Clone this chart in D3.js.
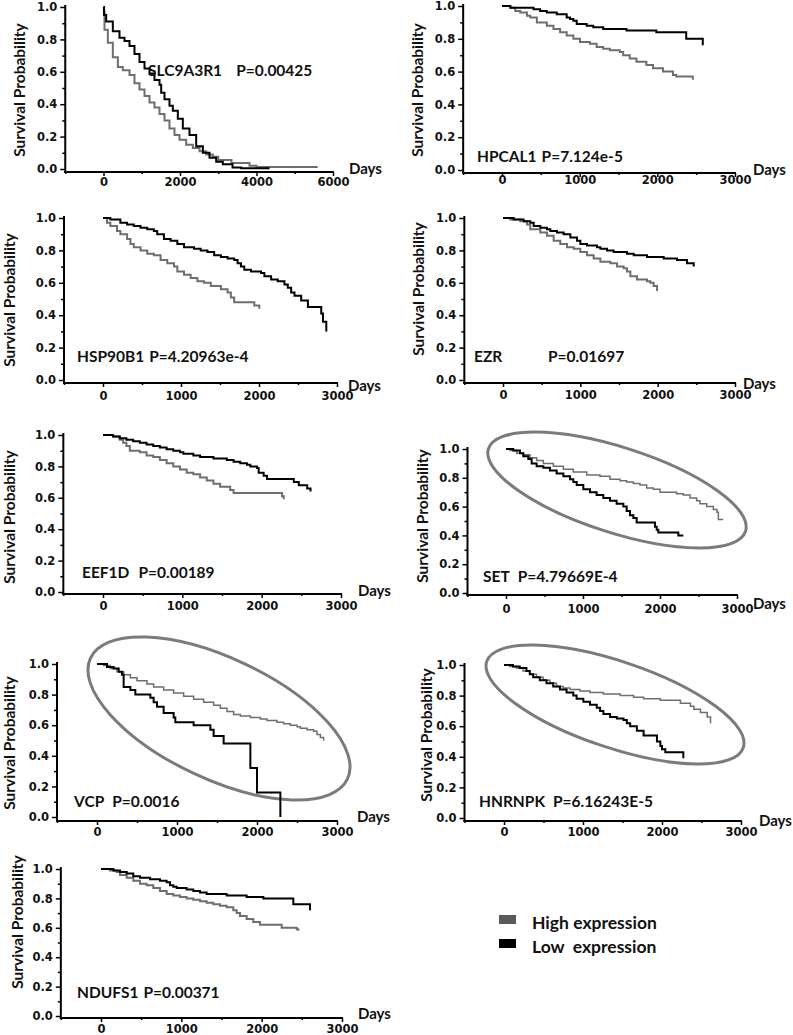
<!DOCTYPE html>
<html><head><meta charset="utf-8">
<script src="https://cdn.jsdelivr.net/npm/d3@7"></script>
<style>
body{margin:0;background:#fff}
svg{display:block}
text{font-family:Lato,"Open Sans",sans-serif;}
</style></head>
<body><svg id="c" width="793" height="1035"></svg>
<script>
// ---------------- DATA ----------------
const geneNames = ["SLC9A3R1","HPCAL1","HSP90B1","EZR","EEF1D","SET","VCP","HNRNPK","NDUFS1"];
const pValues = ["P=0.00425","P=7.124e-5","P=4.20963e-4","P=0.01697","P=0.00189","P=4.79669E-4","P=0.0016","P=6.16243E-5","P=0.00371"];
const yTicks = [0,0.2,0.4,0.6,0.8,1.0];
const yMinorTicks = [0.1,0.3,0.5,0.7,0.9];
const xTicks6000 = [0,2000,4000,6000];
const xMinor6000 = [-1000,1000,3000,5000];
const xTicks3000 = [0,1000,2000,3000];
const xMinor3000 = [-500,500,1500,2500];
const legendLabels = ["High expression","Low  expression"];

// survival curves: [days, survival probability]
const slcHigh = [[0,1],[10,0.97],[26,0.86],[113,0.78],[244,0.69],[375,0.63],[505,0.61],[680,0.58],[810,0.53],[941,0.49],[1072,0.45],[1203,0.41],[1333,0.38],[1464,0.34],[1595,0.30],[1725,0.25],[1856,0.21],[1987,0.18],[2161,0.15],[2336,0.13],[2510,0.11],[2684,0.09],[2858,0.075],[3000,0.055],[3346,0.037],[3817,0.02],[4000,0.012],[5600,0.012]];
const slcLow = [[0,1],[15,0.95],[70,0.91],[244,0.85],[418,0.81],[549,0.79],[680,0.76],[810,0.71],[941,0.66],[1072,0.62],[1203,0.59],[1333,0.55],[1464,0.52],[1508,0.47],[1595,0.43],[1725,0.39],[1813,0.36],[1943,0.31],[2074,0.25],[2248,0.21],[2423,0.14],[2597,0.10],[2771,0.07],[2946,0.045],[3120,0.03],[3373,0.01],[3600,0.005],[4340,0.005]];
const hpcalHigh = [[0,1],[107,0.99],[171,0.97],[235,0.96],[321,0.94],[363,0.93],[449,0.90],[577,0.88],[662,0.86],[748,0.84],[833,0.82],[919,0.80],[1004,0.78],[1132,0.77],[1218,0.75],[1303,0.74],[1389,0.73],[1517,0.72],[1560,0.70],[1645,0.68],[1731,0.66],[1859,0.64],[1944,0.62],[2073,0.60],[2201,0.58],[2244,0.57],[2457,0.55]];
const hpcalLow = [[0,1],[107,0.99],[406,0.98],[491,0.97],[577,0.96],[705,0.95],[833,0.93],[876,0.92],[919,0.91],[962,0.89],[1090,0.88],[1175,0.87],[1303,0.86],[1603,0.85],[1987,0.84],[2372,0.80],[2585,0.76]];
const hspHigh = [[0,1],[52,0.97],[94,0.95],[180,0.92],[223,0.90],[309,0.87],[352,0.84],[395,0.82],[481,0.80],[567,0.78],[652,0.77],[738,0.74],[824,0.72],[910,0.70],[953,0.67],[1039,0.65],[1124,0.63],[1210,0.61],[1296,0.60],[1382,0.58],[1511,0.56],[1597,0.54],[1639,0.51],[1682,0.48],[1940,0.46],[2004,0.44]];
const hspLow = [[0,1],[94,0.99],[223,0.97],[309,0.96],[395,0.95],[481,0.94],[567,0.93],[652,0.92],[695,0.90],[781,0.87],[867,0.86],[953,0.84],[1039,0.82],[1167,0.81],[1253,0.80],[1339,0.79],[1425,0.77],[1511,0.76],[1597,0.75],[1682,0.74],[1725,0.72],[1768,0.70],[1811,0.68],[1897,0.67],[2026,0.66],[2069,0.64],[2155,0.62],[2240,0.61],[2326,0.59],[2369,0.57],[2412,0.54],[2455,0.52],[2541,0.49],[2627,0.45],[2798,0.41],[2820,0.36],[2863,0.30]];
const ezrHigh = [[0,1],[95,0.99],[224,0.98],[310,0.96],[353,0.93],[483,0.91],[569,0.89],[655,0.86],[741,0.84],[828,0.82],[914,0.81],[1000,0.79],[1086,0.77],[1172,0.75],[1259,0.73],[1388,0.72],[1474,0.70],[1560,0.69],[1603,0.67],[1647,0.64],[1733,0.62],[1862,0.61],[1905,0.60],[1948,0.58],[1991,0.55]];
const ezrLow = [[0,1],[138,0.99],[267,0.98],[353,0.97],[397,0.95],[483,0.94],[569,0.93],[612,0.92],[698,0.91],[784,0.90],[871,0.88],[957,0.86],[1000,0.84],[1086,0.83],[1216,0.82],[1259,0.81],[1345,0.80],[1431,0.79],[1603,0.78],[1690,0.77],[1862,0.76],[2078,0.75],[2250,0.74],[2379,0.72],[2466,0.70]];
const eefHigh = [[0,1],[127,0.99],[211,0.97],[253,0.95],[295,0.93],[338,0.90],[464,0.89],[549,0.87],[633,0.86],[717,0.84],[802,0.82],[886,0.80],[970,0.78],[1055,0.76],[1139,0.75],[1224,0.73],[1308,0.71],[1392,0.69],[1477,0.67],[1603,0.65],[1646,0.63],[2257,0.61],[2278,0.59]];
const eefLow = [[0,1],[127,0.99],[211,0.98],[295,0.97],[380,0.96],[464,0.95],[549,0.94],[633,0.93],[717,0.92],[802,0.91],[886,0.90],[970,0.89],[1013,0.88],[1139,0.87],[1224,0.86],[1392,0.85],[1561,0.84],[1646,0.83],[1730,0.82],[1814,0.81],[1857,0.80],[1941,0.79],[1962,0.76],[2025,0.74],[2068,0.72],[2405,0.70],[2468,0.68],[2574,0.66],[2616,0.64]];
const setHigh = [[0,1],[52,0.99],[139,0.97],[225,0.96],[312,0.94],[398,0.92],[485,0.90],[615,0.88],[745,0.86],[874,0.84],[1048,0.82],[1221,0.81],[1351,0.79],[1481,0.78],[1567,0.77],[1654,0.76],[1740,0.75],[1827,0.73],[1913,0.72],[2000,0.70],[2216,0.69],[2303,0.68],[2390,0.66],[2476,0.64],[2519,0.62],[2606,0.60],[2693,0.58],[2740,0.56],[2758,0.51],[2820,0.51]];
const setLow = [[0,1],[95,0.99],[182,0.97],[225,0.95],[290,0.93],[333,0.90],[398,0.88],[485,0.87],[571,0.85],[658,0.83],[745,0.81],[831,0.79],[874,0.77],[918,0.75],[1004,0.72],[1091,0.70],[1177,0.68],[1264,0.66],[1351,0.64],[1437,0.62],[1524,0.60],[1567,0.57],[1610,0.54],[1654,0.52],[1697,0.49],[1935,0.46],[1957,0.44],[1978,0.42],[2238,0.40],[2303,0.40]];
const vcpHigh = [[0,1],[83,0.99],[167,0.97],[250,0.95],[333,0.93],[417,0.91],[500,0.89],[625,0.87],[708,0.85],[833,0.83],[958,0.81],[1083,0.79],[1208,0.77],[1333,0.75],[1458,0.73],[1542,0.71],[1625,0.69],[1708,0.67],[1792,0.66],[1917,0.65],[2042,0.64],[2125,0.63],[2250,0.62],[2333,0.61],[2417,0.60],[2500,0.59],[2542,0.58],[2625,0.57],[2708,0.56],[2750,0.54],[2792,0.52],[2833,0.50]];
const vcpLow = [[0,1],[125,0.98],[208,0.97],[271,0.95],[313,0.93],[333,0.85],[417,0.83],[479,0.80],[667,0.78],[708,0.75],[750,0.72],[833,0.68],[958,0.65],[979,0.62],[1208,0.60],[1417,0.57],[1458,0.53],[1583,0.48],[1917,0.32],[2000,0.16],[2292,0.0]];
const hnrHigh = [[0,1],[72,0.99],[157,0.98],[242,0.96],[326,0.94],[411,0.92],[496,0.90],[581,0.88],[665,0.86],[750,0.85],[835,0.84],[962,0.83],[1089,0.82],[1258,0.81],[1470,0.80],[1640,0.79],[1767,0.78],[1979,0.77],[2233,0.75],[2360,0.73],[2403,0.71],[2487,0.69],[2572,0.66],[2614,0.62]];
const hnrLow = [[0,1],[114,0.99],[199,0.98],[284,0.96],[326,0.94],[369,0.92],[453,0.90],[538,0.88],[623,0.86],[708,0.84],[792,0.82],[877,0.80],[919,0.78],[1004,0.76],[1089,0.74],[1174,0.72],[1216,0.70],[1258,0.68],[1343,0.66],[1428,0.65],[1513,0.64],[1555,0.62],[1597,0.60],[1682,0.57],[1767,0.54],[1936,0.50],[1979,0.47],[2000,0.45],[2042,0.43],[2270,0.39]];
const ndufHigh = [[0,1],[112,0.99],[195,0.98],[237,0.96],[320,0.94],[402,0.92],[485,0.90],[568,0.89],[651,0.87],[734,0.85],[817,0.83],[900,0.82],[983,0.81],[1066,0.80],[1149,0.79],[1232,0.78],[1315,0.77],[1398,0.76],[1481,0.75],[1564,0.74],[1647,0.72],[1689,0.70],[1730,0.68],[1813,0.66],[1896,0.64],[1979,0.62],[2249,0.60],[2436,0.59],[2456,0.58]];
const ndufLow = [[0,1],[154,0.99],[237,0.98],[320,0.97],[402,0.95],[485,0.94],[610,0.93],[734,0.92],[817,0.91],[859,0.89],[900,0.88],[942,0.87],[1066,0.86],[1149,0.85],[1232,0.84],[1315,0.83],[1564,0.82],[1813,0.81],[2021,0.80],[2394,0.76],[2602,0.72]];

const highSeries = [slcHigh,hpcalHigh,hspHigh,ezrHigh,eefHigh,setHigh,vcpHigh,hnrHigh,ndufHigh];
const lowSeries  = [slcLow,hpcalLow,hspLow,ezrLow,eefLow,setLow,vcpLow,hnrLow,ndufLow];

// ---------------- LAYOUT ----------------
const layouts = [
 {x0:103.5,xEnd:333,xMin:-1000,xMax:6000,maj:xTicks6000,min:xMinor6000,y0:169,y1:7,axY:172,lblOff:6,days:[349,174],yl:[19,90],ann:[148,76],gap:14},
 {x0:502,xEnd:735,xMin:-500,xMax:3000,maj:xTicks3000,min:xMinor3000,y0:170,y1:6,axY:173,lblOff:3,days:[753,175],yl:[417,90],ann:[477,162],gap:5},
 {x0:103,xEnd:337,xMin:-500,xMax:3000,maj:xTicks3000,min:xMinor3000,y0:380,y1:218,axY:383,lblOff:9,days:[348,391],yl:[9,300],ann:[77,362],gap:5},
 {x0:503,xEnd:735,xMin:-500,xMax:3000,maj:xTicks3000,min:xMinor3000,y0:380,y1:218,axY:383,lblOff:8,days:[743,389],yl:[418,289],ann:[474,362],pX:548},
 {x0:103,xEnd:341,xMin:-500,xMax:3000,maj:xTicks3000,min:xMinor3000,y0:592,y1:435,axY:594,lblOff:8,days:[358,596],yl:[9,517],ann:[82,578],gap:9},
 {x0:506,xEnd:737,xMin:-500,xMax:3000,maj:xTicks3000,min:xMinor3000,y0:593,y1:449,axY:595,lblOff:10,days:[753,609],yl:[422,516],ann:[483,582],gap:8,thin:true,ell:[617,490,135,42.7,17.8]},
 {x0:97,xEnd:337,xMin:-500,xMax:3000,maj:xTicks3000,min:xMinor3000,y0:817,y1:664,axY:821,lblOff:7,days:[357,822],yl:[9,743],ann:[74,807],gap:8,thin:true,ell:[219,718.5,142,60.4,25.2]},
 {x0:504,xEnd:741,xMin:-500,xMax:3000,maj:xTicks3000,min:xMinor3000,y0:818,y1:665,axY:821,lblOff:7,days:[759,826],yl:[426,735],ann:[479,807],gap:8,thin:true,ell:[615,704.5,135.3,43.2,18.6]},
 {x0:101,xEnd:342,xMin:-500,xMax:3000,maj:xTicks3000,min:xMinor3000,y0:1016,y1:869,axY:1018,lblOff:7,days:[358,1019],yl:[17,922],ann:[77,998],gap:5}
];

const HIGH = '#6e6e6e', LOW = '#000', ELL = '#7b7b7b';
const svg = d3.select('#c');
svg.append('rect').attr('width',793).attr('height',1035).attr('fill','#fff');

function drawPanel(L, i) {
  const g = svg.append('g');
  const x = d3.scaleLinear().domain([0, L.xMax]).range([L.x0, L.xEnd]);
  const y = d3.scaleLinear().domain([0, 1]).range([L.y0, L.y1]);
  const ax = x(L.xMin);

  if (L.ell) {
    const [cx, cy, rx, ry, th] = L.ell;
    g.append('ellipse').attr('cx', cx).attr('cy', cy).attr('rx', rx).attr('ry', ry)
      .attr('transform', `rotate(${th},${cx},${cy})`)
      .attr('fill', 'none').attr('stroke', ELL).attr('stroke-width', 3);
  }

  // y axis
  const ya = g.append('g').attr('transform', `translate(${ax},0)`)
    .call(d3.axisLeft(y).tickValues(yTicks).tickFormat(d3.format('.1f')).tickSize(5).tickPadding(3));
  ya.select('.domain').remove();
  const ym = g.append('g').attr('transform', `translate(${ax},0)`)
    .call(d3.axisLeft(y).tickValues(yMinorTicks).tickFormat('').tickSize(3));
  ym.select('.domain').remove();
  g.append('line').attr('x1', ax).attr('x2', ax).attr('y1', y(1) - 2).attr('y2', L.axY + 1)
    .attr('stroke', '#000').attr('stroke-width', 2);

  // x axis
  const xa = g.append('g').attr('transform', `translate(0,${L.axY})`)
    .call(d3.axisBottom(x).tickValues(L.maj).tickFormat(d3.format('d')).tickSize(4).tickPadding(L.lblOff - 4));
  xa.select('.domain').remove();
  const xm = g.append('g').attr('transform', `translate(0,${L.axY})`)
    .call(d3.axisBottom(x).tickValues(L.min).tickFormat('').tickSize(2));
  xm.select('.domain').remove();
  g.append('line').attr('x1', ax - 1).attr('x2', x(L.xMax) + 1).attr('y1', L.axY).attr('y2', L.axY)
    .attr('stroke', '#000').attr('stroke-width', 2);

  g.selectAll('.tick line').attr('stroke', '#000').attr('stroke-width', 1.5);
  g.selectAll('.tick text').attr('fill', '#111')
    .style('font-family', '"DejaVu Sans",sans-serif').style('font-weight', 'bold').style('font-size', '11.5px');

  // curves
  const line = d3.line().x(d => x(d[0])).y(d => y(d[1])).curve(d3.curveStepAfter);
  g.append('path').datum(highSeries[i]).attr('d', line).attr('fill', 'none')
    .attr('stroke', HIGH).attr('stroke-width', L.thin ? 1.5 : 2);
  g.append('path').datum(lowSeries[i]).attr('d', line).attr('fill', 'none')
    .attr('stroke', LOW).attr('stroke-width', 2);

  // labels
  g.append('text').attr('transform', `translate(${L.yl[0]},${L.yl[1]}) rotate(-90)`)
    .attr('text-anchor', 'middle').attr('dominant-baseline', 'central')
    .style('font-weight', 'bold').style('font-size', '15.5px').attr('fill', '#111').text('Survival Probability');
  g.append('text').attr('x', L.days[0]).attr('y', L.days[1])
    .style('font-weight', 'bold').style('font-size', '15px').attr('fill', '#111').text('Days');
  const gt = g.append('text').attr('x', L.ann[0]).attr('y', L.ann[1])
    .style('font-weight', 'bold').style('font-size', '15.5px').attr('fill', '#111').text(geneNames[i]);
  const px = L.pX != null ? L.pX : L.ann[0] + gt.node().getComputedTextLength() + L.gap;
  g.append('text').attr('x', px).attr('y', L.ann[1])
    .style('font-weight', 'bold').style('font-size', '15.5px').attr('fill', '#111').text(pValues[i]);
}

layouts.forEach((L, i) => drawPanel(L, i));

// legend
const legColors = ['#5a5a5a', '#000'];
const leg = svg.append('g');
legendLabels.forEach((t, i) => {
  leg.append('rect').attr('x', 499).attr('y', 915 + i * 24).attr('width', 17).attr('height', 9).attr('fill', legColors[i]);
  leg.append('text').attr('x', 532).attr('y', 929 + i * 24).style('white-space', 'pre')
    .style('font-weight', 'bold').style('font-size', '17.5px').attr('fill', '#111').text(t);
});
</script>
</body></html>
